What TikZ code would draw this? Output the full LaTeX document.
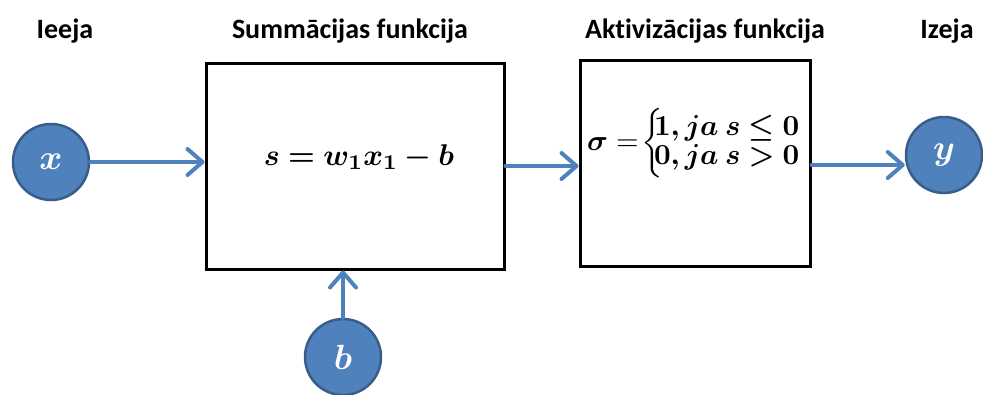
\documentclass[tikz,border=0pt]{standalone}
\usepackage{amsmath,bm}
\usepackage{fontspec}
\setmainfont{Carlito}[Ligatures=NoCommon]
\usetikzlibrary{arrows.meta}
\definecolor{nblue}{HTML}{4F81BD}
\definecolor{nedge}{HTML}{385D8A}
\newcommand{\scaledmath}[2]{\scalebox{#1}{$#2$}}
\tikzset{
  x=1pt,y=-1pt,
  neuron/.style={circle,fill=nblue,draw=nedge,line width=2.5pt,minimum size=76pt,inner sep=0pt,text=white},
  fbox/.style={draw=black,line width=3pt,inner sep=0pt},
  conn/.style={draw=nblue,line width=4pt,line cap=round,-{Straight Barb[length=15pt,width=26pt,line width=4pt,round]}},
  hdr/.style={font=\fontsize{28}{30}\selectfont\bfseries,anchor=base}
}
\begin{document}
\begin{tikzpicture}
\useasboundingbox (0,0) rectangle (983,394);
\node[fbox,minimum width=298pt,minimum height=206pt] (sum) at (355,166) {};
\node[fbox,minimum width=230pt,minimum height=206pt] (act) at (695,163) {};
\node[neuron] (x) at (51,162) {\scaledmath{3.5}{\bm{x}}};
\node[neuron] (y) at (944,155) {\scaledmath{3.5}{\bm{y}}};
\node[neuron] (b) at (343,357) {\scaledmath{3.5}{\bm{b}}};
\node (sf) at (359,157) {\scaledmath{3}{\bm{s = w_1 x_1 - b}}};
\node[inner sep=0pt] (af) at (695,143) {\scaledmath{2.9}{\bm{\sigma} = \!\left\{\!\!\begin{array}{@{}l@{}}\bm{1, ja\ s \le 0}\\[-2pt] \bm{0, ja\ s > 0}\end{array}\right.}};
\node[hdr] (h1) at (65,38) {Ieeja};
\node[hdr] (h2) at (350,38) {Summācijas funkcija};
\node[hdr] (h3) at (705,38) {Aktivizācijas funkcija};
\node[hdr] (h4) at (947,38) {Izeja};
\draw[conn] (x.east) -- (sum.west |- x.east);
\draw[conn] (sum.east |- 0,166) -- (act.west |- 0,166);
\draw[conn] (act.east |- 0,165) -- (y.west |- 0,165);
\draw[conn] (b.north) -- (b.north |- sum.south);
\end{tikzpicture}
\end{document}
